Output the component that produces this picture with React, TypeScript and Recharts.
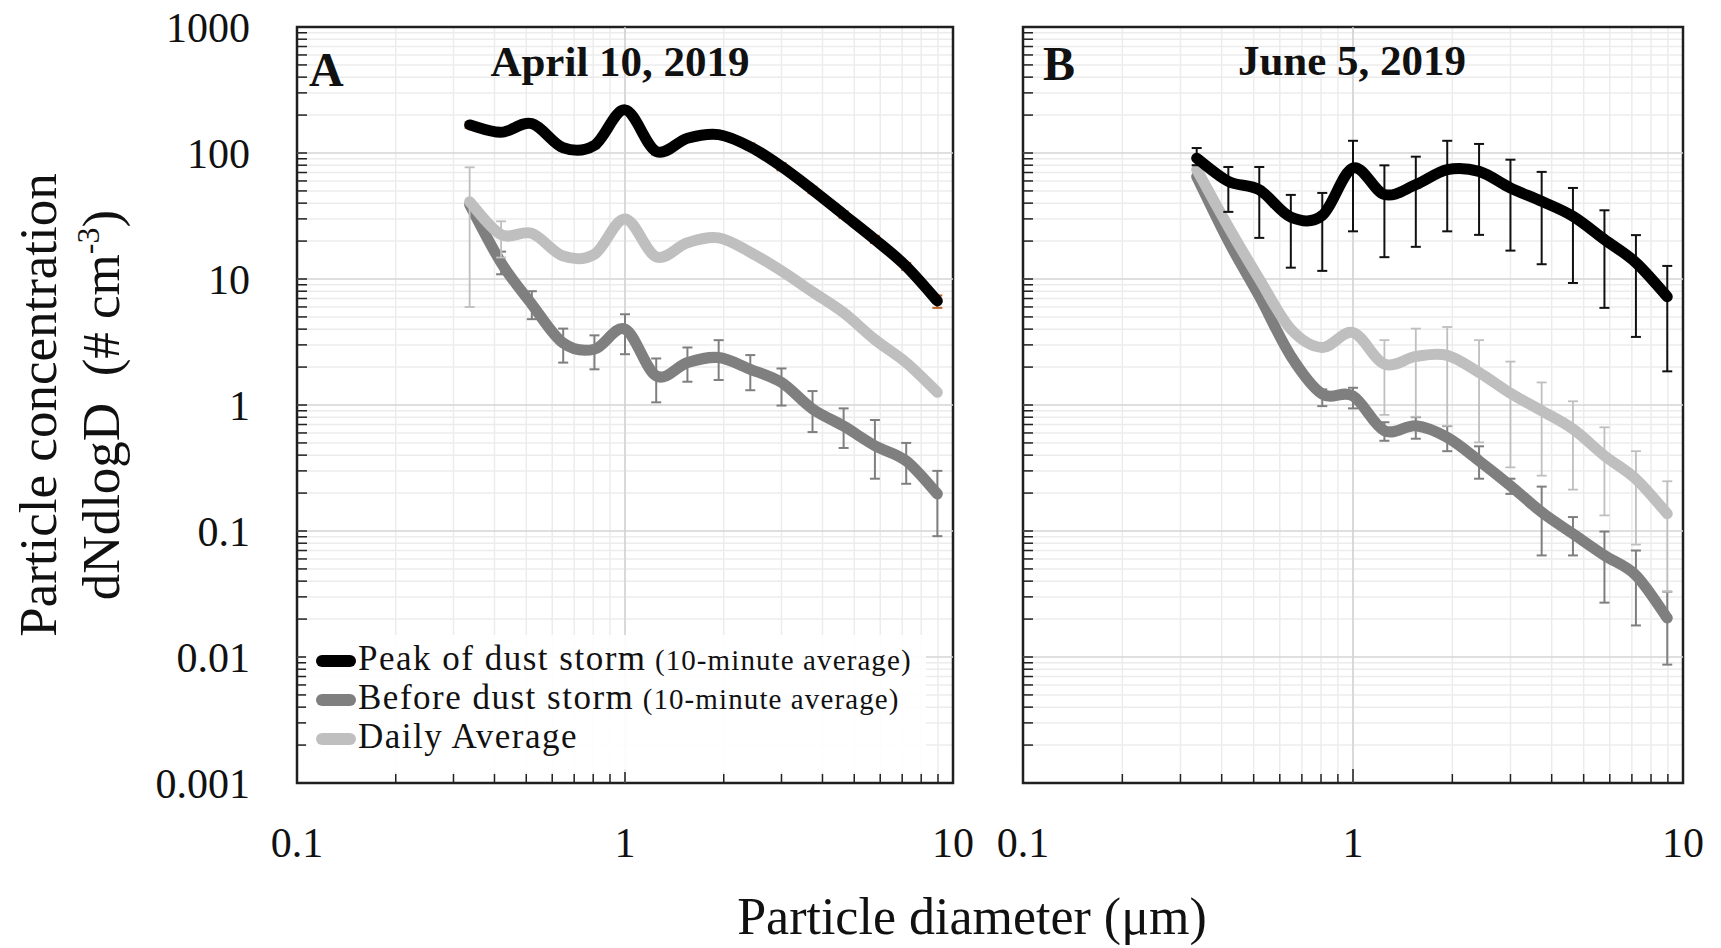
import React from "react";
import {
  LineChart,
  Line,
  XAxis,
  YAxis,
  CartesianGrid,
  ReferenceLine,
  ReferenceArea,
  ErrorBar,
  Legend,
} from "recharts";

const SERIF = "'Liberation Serif', 'Times New Roman', serif";
const INK = "#111111";

// bin centres of the optical particle counter (µm)
const diameters = [0.336, 0.419, 0.52, 0.648, 0.807, 1.0, 1.245, 1.55, 1.93, 2.41, 3.0, 3.73, 4.64, 5.78, 7.2, 8.96];

// April 10, 2019
const aprPeak = [167, 146, 171, 110, 115, 220, 103, 131, 140, 112, 78, 51, 32.5, 20.6, 12.6, 6.7];
const aprPeakLo = [158, 139, 163, 104, 109, 208, 97, 124, 132, 106, 73, 48, 30.5, 19.3, 11.8, 5.9];
const aprPeakHi = [176, 153, 180, 116, 121, 232, 109, 138, 148, 119, 83, 54, 34.5, 22, 13.4, 7.4];
const aprBefore = [39, 13.5, 6.3, 3.1, 2.77, 4.0, 1.7, 2.17, 2.38, 1.92, 1.51, 0.93, 0.68, 0.475, 0.36, 0.197];
const aprBeforeLo = [null, 10.9, 4.8, 2.17, 1.92, 2.53, 1.05, 1.53, 1.58, 1.31, 0.99, 0.61, 0.456, 0.26, 0.237, 0.091];
const aprBeforeHi = [null, 16.5, 8.0, 4.04, 3.57, 5.25, 2.34, 2.86, 3.27, 2.49, 1.95, 1.29, 0.94, 0.76, 0.5, 0.3];
const aprDaily = [41, 22.5, 23, 15.2, 15.7, 30, 15, 19.4, 21.2, 16.3, 11.6, 7.9, 5.4, 3.3, 2.17, 1.26];
const aprDailyLo = [6.0, 14.8, null, null, null, null, null, null, null, null, null, null, null, null, null, null];
const aprDailyHi = [77, 28.7, null, null, null, null, null, null, null, null, null, null, null, null, null, null];

// June 5, 2019
const junPeak = [91, 59.5, 51, 31, 32, 76, 46.8, 56, 73.8, 71.5, 52.8, 41.4, 31.5, 20.6, 13.5, 7.24];
const junPeakLo = [80, 34.1, 21.2, 12.3, 11.6, 23.9, 14.9, 18.0, 23.9, 22.4, 16.8, 13.1, 9.3, 5.9, 3.47, 1.85];
const junPeakHi = [109.5, 77.4, 77.4, 46.5, 48.2, 125, 79.8, 93.5, 125, 118, 88.5, 70.8, 52.8, 35.1, 22.3, 12.7];
const junBefore = [65, 20, 7.3, 2.45, 1.22, 1.18, 0.625, 0.684, 0.553, 0.361, 0.229, 0.141, 0.095, 0.064, 0.0445, 0.0204];
const junBeforeLo = [null, null, null, null, 0.98, 0.94, 0.52, 0.54, 0.43, 0.26, 0.197, 0.064, 0.064, 0.027, 0.0178, 0.0087];
const junBeforeHi = [null, null, null, null, 1.33, 1.37, 0.73, 0.8, 0.68, 0.47, 0.26, 0.225, 0.129, 0.099, 0.07, 0.033];
const junDaily = [74, 26, 10, 4.0, 2.86, 3.76, 2.11, 2.43, 2.48, 1.81, 1.24, 0.9, 0.644, 0.396, 0.259, 0.137];
const junDailyLo = [null, null, null, null, null, null, 0.835, 0.807, 0.684, 0.505, 0.32, 0.275, 0.213, 0.133, 0.078, 0.033];
const junDailyHi = [null, null, null, null, null, null, 3.27, 4.04, 4.16, 3.27, 2.21, 1.51, 1.07, 0.665, 0.43, 0.248];

// axes
const X_TICKS = [0.1, 0.2, 0.3, 0.4, 0.5, 0.6, 0.7, 0.8, 0.9, 1, 2, 3, 4, 5, 6, 7, 8, 9, 10];
const X_LABEL_VALUES = [0.1, 1, 10];
const X_LABEL_TEXT = ["0.1", "1", "10"];
const Y_TICKS = [
  0.001, 0.002, 0.003, 0.004, 0.005, 0.006, 0.007, 0.008, 0.009,
  0.01, 0.02, 0.03, 0.04, 0.05, 0.06, 0.07, 0.08, 0.09,
  0.1, 0.2, 0.3, 0.4, 0.5, 0.6, 0.7, 0.8, 0.9,
  1, 2, 3, 4, 5, 6, 7, 8, 9,
  10, 20, 30, 40, 50, 60, 70, 80, 90,
  100, 200, 300, 400, 500, 600, 700, 800, 900,
  1000,
];
const Y_LABEL_VALUES = [0.001, 0.01, 0.1, 1, 10, 100, 1000];
const Y_LABEL_TEXT = ["0.001", "0.01", "0.1", "1", "10", "100", "1000"];
const Y_MAJOR_GRID = [0.01, 0.1, 1, 10, 100];

const BLACK = "#000000";
const GRAY = "#7f7f7f";
const LIGHT = "#bfbfbf";
const PEAK_ERR = "#c0652a";

const legendRows = [
  { label: "Peak of dust storm", note: "(10-minute average)", color: BLACK },
  { label: "Before dust storm", note: "(10-minute average)", color: GRAY },
  { label: "Daily Average", note: "", color: LIGHT },
];

const CHART_H = 883;
const X_GAP = 42;
const Y_GAP = 47;
const ROW_H = 39;

function toErr(v: number, lo: number | null, hi: number | null) {
  if (lo == null || hi == null) return null;
  return [v - lo, hi - v];
}

function buildRows(
  peak: number[], peakLo: (number | null)[], peakHi: (number | null)[],
  before: number[], beforeLo: (number | null)[], beforeHi: (number | null)[],
  daily: number[], dailyLo: (number | null)[], dailyHi: (number | null)[],
) {
  return diameters.map((d, i) => ({
    d,
    peak: peak[i],
    peakErr: toErr(peak[i], peakLo[i], peakHi[i]),
    before: before[i],
    beforeErr: toErr(before[i], beforeLo[i], beforeHi[i]),
    daily: daily[i],
    dailyErr: toErr(daily[i], dailyLo[i], dailyHi[i]),
  }));
}

const aprRows = buildRows(aprPeak, aprPeakLo, aprPeakHi, aprBefore, aprBeforeLo, aprBeforeHi, aprDaily, aprDailyLo, aprDailyHi);
const junRows = buildRows(junPeak, junPeakLo, junPeakHi, junBefore, junBeforeLo, junBeforeHi, junDaily, junDailyLo, junDailyHi);

// smoothed line through every point (uniform Catmull-Rom as Bezier segments)
function smoothCurve(context: any) {
  let pts: number[][] = [];
  return {
    areaStart() {},
    areaEnd() {},
    lineStart() {
      pts = [];
    },
    point(x: number, y: number) {
      pts.push([+x, +y]);
    },
    lineEnd() {
      if (!pts.length) return;
      context.moveTo(pts[0][0], pts[0][1]);
      for (let i = 0; i < pts.length - 1; i++) {
        const p0 = pts[i - 1] || pts[i];
        const p1 = pts[i];
        const p2 = pts[i + 1];
        const p3 = pts[i + 2] || p2;
        const k = 1 / 6;
        context.bezierCurveTo(
          p1[0] + (p2[0] - p0[0]) * k,
          p1[1] + (p2[1] - p0[1]) * k,
          p2[0] - (p3[0] - p1[0]) * k,
          p2[1] - (p3[1] - p1[1]) * k,
          p2[0],
          p2[1],
        );
      }
    },
  };
}

function XTick(props: any) {
  const { x, y, payload } = props;
  const idx = X_LABEL_VALUES.indexOf(payload.value);
  const base = y - X_GAP;
  const len = payload.value === 1 ? 14 : 9;
  return (
    <g>
      <line x1={x} x2={x} y1={base} y2={base - len} stroke="#222" strokeWidth={1.5} />
      {idx >= 0 && (
        <text x={x} y={y + 32} textAnchor="middle" fontFamily={SERIF} fontSize={42} fill={INK}>
          {X_LABEL_TEXT[idx]}
        </text>
      )}
    </g>
  );
}

function YTick(props: any) {
  const { x, y, payload, showLabel } = props;
  const idx = Y_LABEL_VALUES.indexOf(payload.value);
  const base = x + Y_GAP;
  return (
    <g>
      <line x1={base} x2={base + 10} y1={y} y2={y} stroke="#222" strokeWidth={1.5} />
      {showLabel && idx >= 0 && (
        <text x={x} y={y} dy="0.35em" textAnchor="end" fontFamily={SERIF} fontSize={42} fill={INK}>
          {Y_LABEL_TEXT[idx]}
        </text>
      )}
    </g>
  );
}

function LegendBox() {
  return (
    <div style={{ background: "rgba(255,255,255,0.9)", padding: "4px 0 16px 0", fontFamily: SERIF, color: INK, fontSize: 35 }}>
      {legendRows.map((r) => (
        <div
          key={r.label}
          style={{ position: "relative", height: ROW_H, lineHeight: `${ROW_H}px`, whiteSpace: "nowrap", paddingLeft: 52 }}
        >
          <svg width={48} height={24} style={{ position: "absolute", left: 4, top: 10 }}>
            <line x1={12} x2={40} y1={12} y2={12} stroke={r.color} strokeWidth={12} strokeLinecap="round" />
          </svg>
          <span style={{ fontSize: 35, letterSpacing: 1.5 }}>{r.label}</span>
          {r.note && <span style={{ fontSize: 29, letterSpacing: 1.1 }}> {r.note}</span>}
        </div>
      ))}
    </div>
  );
}

interface PanelProps {
  rows: any[];
  width: number;
  yAxisWidth: number;
  marginRight: number;
  showYLabels: boolean;
  showLegend: boolean;
}

function Panel({ rows, width, yAxisWidth, marginRight, showYLabels, showLegend }: PanelProps) {
  const lineProps = {
    type: smoothCurve as any,
    dot: false,
    activeDot: false,
    strokeWidth: 11,
    strokeLinecap: "round" as const,
    strokeLinejoin: "round" as const,
    isAnimationActive: false,
  };
  return (
    <LineChart width={width} height={CHART_H} data={rows} margin={{ top: 27, right: marginRight, bottom: 0, left: 0 }}>
      <CartesianGrid stroke="#ececec" strokeWidth={1.5} />
      {Y_MAJOR_GRID.map((v) => (
        <ReferenceLine key={v} y={v} stroke="#d8d8d8" strokeWidth={1.5} />
      ))}
      <ReferenceLine x={1} stroke="#d0d0d0" strokeWidth={1.5} />
      <XAxis
        dataKey="d"
        type="number"
        scale="log"
        domain={[0.1, 10]}
        allowDataOverflow
        ticks={X_TICKS}
        interval={0}
        height={100}
        tickSize={0}
        tickMargin={X_GAP}
        axisLine={false}
        tickLine={false}
        tick={(p: any) => <XTick {...p} />}
      />
      <YAxis
        type="number"
        scale="log"
        domain={[0.001, 1000]}
        allowDataOverflow
        ticks={Y_TICKS}
        interval={0}
        width={yAxisWidth}
        tickSize={0}
        tickMargin={Y_GAP}
        axisLine={false}
        tickLine={false}
        tick={(p: any) => <YTick {...p} showLabel={showYLabels} />}
      />
      <Line dataKey="before" stroke={GRAY} {...lineProps}>
        <ErrorBar dataKey="beforeErr" width={5} stroke={GRAY} strokeWidth={2} isAnimationActive={false} />
      </Line>
      <Line dataKey="daily" stroke={LIGHT} {...lineProps}>
        <ErrorBar dataKey="dailyErr" width={5} stroke={LIGHT} strokeWidth={1.8} isAnimationActive={false} />
      </Line>
      <Line dataKey="peak" stroke={BLACK} {...lineProps}>
        <ErrorBar
          dataKey="peakErr"
          width={5}
          stroke={showLegend ? PEAK_ERR : "#111"}
          strokeWidth={2}
          isAnimationActive={false}
        />
      </Line>
      <ReferenceArea x1={0.1} x2={10} y1={0.001} y2={1000} fill="none" stroke="#1f1f1f" strokeWidth={2.5} ifOverflow="visible" />
      {showLegend && (
        <Legend
          layout="vertical"
          align="center"
          verticalAlign="middle"
          content={() => <LegendBox />}
          wrapperStyle={{ left: 306, top: 635, width: 620 }}
        />
      )}
    </LineChart>
  );
}

export default function App() {
  return (
    <div style={{ position: "absolute", left: 0, top: 0, width: 1721, height: 948, background: "#fff", overflow: "hidden" }}>
      <div style={{ position: "absolute", left: 0, top: 0 }}>
        <Panel rows={aprRows} width={983} yAxisWidth={297} marginRight={30} showYLabels showLegend />
      </div>
      <div style={{ position: "absolute", left: 960, top: 0 }}>
        <Panel rows={junRows} width={760} yAxisWidth={63} marginRight={37} showYLabels={false} showLegend={false} />
      </div>
      <svg
        width={1721}
        height={948}
        style={{ position: "absolute", left: 0, top: 0, pointerEvents: "none" }}
        fontFamily={SERIF}
        fill={INK}
      >
        <text x={309} y={86} fontSize={48} fontWeight="bold">A</text>
        <text x={620} y={76} fontSize={43} fontWeight="bold" textAnchor="middle">April 10, 2019</text>
        <text x={1043} y={80} fontSize={48} fontWeight="bold">B</text>
        <text x={1352} y={75} fontSize={43} fontWeight="bold" textAnchor="middle">June 5, 2019</text>
        <text x={972} y={934} fontSize={52} textAnchor="middle">Particle diameter (μm)</text>
        <text transform="translate(56, 405) rotate(-90)" fontSize={53} textAnchor="middle">Particle concentration</text>
        <text transform="translate(119, 405) rotate(-90)" fontSize={53} textAnchor="middle" style={{ whiteSpace: "pre" }}>
          {"dNdlogD  (# cm"}
          <tspan fontSize={32} dy={-20}>-3</tspan>
          <tspan dy={20}>)</tspan>
        </text>
      </svg>
    </div>
  );
}
